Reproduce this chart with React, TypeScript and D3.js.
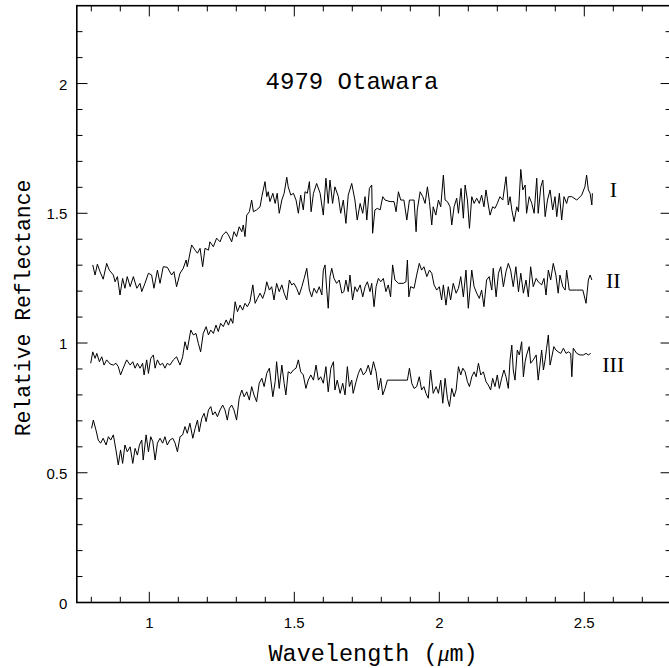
import * as d3 from "d3";

// spectra of 4979 Otawara, three runs, [wavelength um, relative reflectance]
const specI: [number, number][] = [
  [0.805, 1.301], [0.813, 1.262], [0.821, 1.304], [0.830, 1.275], [0.841, 1.246], [0.853, 1.307],
  [0.862, 1.281], [0.876, 1.262], [0.882, 1.236], [0.890, 1.256], [0.899, 1.185], [0.908, 1.249],
  [0.916, 1.211], [0.924, 1.256], [0.934, 1.217], [0.945, 1.256], [0.957, 1.211], [0.968, 1.230],
  [0.974, 1.198], [0.985, 1.230], [0.997, 1.269], [1.008, 1.262], [1.016, 1.211], [1.028, 1.281],
  [1.037, 1.230], [1.048, 1.294], [1.062, 1.292], [1.077, 1.262], [1.085, 1.275], [1.094, 1.217],
  [1.106, 1.269], [1.117, 1.288], [1.127, 1.320], [1.131, 1.294], [1.146, 1.378], [1.158, 1.358],
  [1.166, 1.346], [1.175, 1.365], [1.184, 1.294], [1.192, 1.365], [1.204, 1.358], [1.209, 1.390],
  [1.221, 1.371], [1.232, 1.404], [1.244, 1.390], [1.253, 1.416], [1.265, 1.429], [1.273, 1.416],
  [1.284, 1.390], [1.292, 1.429], [1.301, 1.410], [1.310, 1.448], [1.319, 1.429], [1.324, 1.455],
  [1.330, 1.410], [1.336, 1.493], [1.345, 1.506], [1.353, 1.551], [1.359, 1.506], [1.370, 1.513],
  [1.382, 1.525], [1.388, 1.564], [1.399, 1.622], [1.405, 1.564], [1.410, 1.583], [1.416, 1.545],
  [1.426, 1.577], [1.434, 1.538], [1.441, 1.577], [1.448, 1.500], [1.457, 1.551], [1.465, 1.577],
  [1.474, 1.639], [1.479, 1.602], [1.488, 1.570], [1.497, 1.577], [1.506, 1.551], [1.514, 1.500],
  [1.522, 1.570], [1.531, 1.513], [1.537, 1.583], [1.545, 1.577], [1.552, 1.622], [1.558, 1.506],
  [1.566, 1.577], [1.577, 1.615], [1.589, 1.577], [1.600, 1.493], [1.609, 1.635], [1.617, 1.538],
  [1.623, 1.628], [1.632, 1.538], [1.640, 1.602], [1.652, 1.564], [1.660, 1.500], [1.669, 1.551],
  [1.678, 1.461], [1.686, 1.570], [1.698, 1.615], [1.709, 1.551], [1.717, 1.474], [1.727, 1.538],
  [1.736, 1.500], [1.744, 1.564], [1.750, 1.474], [1.759, 1.596], [1.767, 1.609], [1.770, 1.423],
  [1.778, 1.513], [1.786, 1.519], [1.796, 1.513], [1.805, 1.564], [1.813, 1.551], [1.830, 1.545],
  [1.844, 1.545], [1.851, 1.506], [1.859, 1.583], [1.867, 1.551], [1.878, 1.551], [1.888, 1.474],
  [1.897, 1.551], [1.905, 1.551], [1.913, 1.551], [1.920, 1.429], [1.924, 1.513], [1.934, 1.583],
  [1.943, 1.564], [1.951, 1.538], [1.959, 1.602], [1.966, 1.545], [1.974, 1.455], [1.979, 1.525],
  [1.988, 1.493], [1.997, 1.551], [2.005, 1.525], [2.014, 1.647], [2.020, 1.551], [2.028, 1.545],
  [2.037, 1.525], [2.043, 1.455], [2.051, 1.525], [2.060, 1.558], [2.066, 1.500], [2.075, 1.596],
  [2.083, 1.481], [2.089, 1.609], [2.097, 1.551], [2.104, 1.442], [2.112, 1.564], [2.120, 1.538],
  [2.129, 1.558], [2.138, 1.538], [2.146, 1.570], [2.154, 1.525], [2.161, 1.590], [2.169, 1.532],
  [2.175, 1.493], [2.184, 1.525], [2.192, 1.519], [2.200, 1.538], [2.209, 1.564], [2.219, 1.551],
  [2.230, 1.641], [2.238, 1.532], [2.244, 1.564], [2.250, 1.513], [2.258, 1.468], [2.267, 1.525],
  [2.273, 1.506], [2.281, 1.669], [2.288, 1.590], [2.296, 1.609], [2.301, 1.500], [2.310, 1.564],
  [2.319, 1.538], [2.327, 1.500], [2.336, 1.635], [2.341, 1.500], [2.350, 1.602], [2.357, 1.628],
  [2.365, 1.487], [2.373, 1.551], [2.382, 1.590], [2.391, 1.513], [2.399, 1.564], [2.405, 1.487],
  [2.414, 1.577], [2.422, 1.474], [2.430, 1.564], [2.439, 1.538], [2.445, 1.564], [2.457, 1.564],
  [2.474, 1.551], [2.491, 1.570], [2.502, 1.602], [2.508, 1.647], [2.514, 1.590], [2.520, 1.577],
  [2.526, 1.532], [2.528, 1.577],
];

const specII: [number, number][] = [
  [0.798, 0.922], [0.805, 0.966], [0.813, 0.941], [0.819, 0.960], [0.828, 0.928], [0.836, 0.947],
  [0.844, 0.915], [0.853, 0.935], [0.865, 0.919], [0.876, 0.915], [0.885, 0.922], [0.893, 0.909],
  [0.901, 0.877], [0.910, 0.903], [0.922, 0.935], [0.934, 0.915], [0.943, 0.928], [0.951, 0.903],
  [0.959, 0.922], [0.968, 0.903], [0.977, 0.922], [0.982, 0.877], [0.991, 0.935], [0.997, 0.883],
  [1.005, 0.941], [1.014, 0.954], [1.020, 0.903], [1.028, 0.935], [1.037, 0.915], [1.046, 0.922],
  [1.054, 0.903], [1.062, 0.922], [1.071, 0.915], [1.083, 0.935], [1.094, 0.947], [1.106, 0.915],
  [1.115, 0.947], [1.123, 1.005], [1.131, 0.973], [1.143, 1.050], [1.152, 1.031], [1.161, 1.037],
  [1.169, 0.999], [1.177, 0.966], [1.186, 1.037], [1.196, 1.063], [1.204, 1.031], [1.212, 1.050],
  [1.221, 1.037], [1.230, 1.069], [1.238, 1.044], [1.246, 1.076], [1.255, 1.063], [1.265, 1.089],
  [1.273, 1.069], [1.281, 1.095], [1.288, 1.076], [1.296, 1.159], [1.304, 1.121], [1.313, 1.146],
  [1.322, 1.127], [1.330, 1.153], [1.338, 1.140], [1.347, 1.159], [1.357, 1.224], [1.365, 1.153],
  [1.373, 1.172], [1.382, 1.192], [1.391, 1.172], [1.399, 1.198], [1.405, 1.236], [1.414, 1.204],
  [1.422, 1.217], [1.430, 1.166], [1.439, 1.230], [1.448, 1.198], [1.457, 1.224], [1.465, 1.192],
  [1.474, 1.166], [1.483, 1.243], [1.491, 1.224], [1.499, 1.230], [1.508, 1.211], [1.517, 1.185],
  [1.526, 1.217], [1.534, 1.249], [1.543, 1.288], [1.552, 1.204], [1.560, 1.178], [1.568, 1.211],
  [1.577, 1.192], [1.586, 1.217], [1.595, 1.185], [1.600, 1.281], [1.606, 1.301], [1.612, 1.204],
  [1.617, 1.134], [1.623, 1.256], [1.629, 1.288], [1.637, 1.249], [1.646, 1.230], [1.655, 1.243],
  [1.664, 1.192], [1.671, 1.198], [1.678, 1.243], [1.686, 1.198], [1.692, 1.262], [1.701, 1.166],
  [1.709, 1.217], [1.717, 1.198], [1.727, 1.224], [1.736, 1.178], [1.744, 1.217], [1.752, 1.236],
  [1.761, 1.198], [1.767, 1.230], [1.775, 1.140], [1.782, 1.217], [1.790, 1.249], [1.798, 1.236],
  [1.807, 1.249], [1.816, 1.198], [1.824, 1.224], [1.832, 1.178], [1.839, 1.301], [1.847, 1.243],
  [1.859, 1.230], [1.876, 1.230], [1.885, 1.236], [1.890, 1.320], [1.895, 1.178], [1.901, 1.217],
  [1.913, 1.211], [1.922, 1.262], [1.931, 1.307], [1.939, 1.281], [1.947, 1.294], [1.957, 1.256],
  [1.966, 1.281], [1.974, 1.269], [1.982, 1.224], [1.991, 1.204], [2.000, 1.217], [2.008, 1.166],
  [2.014, 1.224], [2.023, 1.146], [2.031, 1.217], [2.039, 1.166], [2.048, 1.230], [2.058, 1.192],
  [2.066, 1.211], [2.074, 1.256], [2.083, 1.178], [2.092, 1.281], [2.100, 1.134], [2.112, 1.281],
  [2.120, 1.217], [2.129, 1.192], [2.138, 1.172], [2.146, 1.204], [2.154, 1.140], [2.163, 1.243],
  [2.172, 1.256], [2.181, 1.204], [2.186, 1.288], [2.196, 1.178], [2.204, 1.269], [2.212, 1.294],
  [2.221, 1.217], [2.230, 1.275], [2.238, 1.307], [2.246, 1.281], [2.255, 1.217], [2.264, 1.294],
  [2.273, 1.198], [2.281, 1.269], [2.290, 1.192], [2.299, 1.243], [2.307, 1.178], [2.315, 1.294],
  [2.324, 1.217], [2.334, 1.249], [2.341, 1.236], [2.353, 1.224], [2.361, 1.249], [2.368, 1.185],
  [2.376, 1.281], [2.384, 1.243], [2.393, 1.307], [2.402, 1.262], [2.410, 1.192], [2.416, 1.262],
  [2.426, 1.217], [2.434, 1.204], [2.439, 1.281], [2.448, 1.204], [2.474, 1.204], [2.495, 1.204],
  [2.506, 1.153], [2.514, 1.243], [2.520, 1.262], [2.526, 1.243],
];

const specIII: [number, number][] = [
  [0.801, 0.671], [0.807, 0.703], [0.816, 0.665], [0.824, 0.626], [0.832, 0.614], [0.841, 0.633],
  [0.851, 0.607], [0.859, 0.639], [0.867, 0.626], [0.876, 0.646], [0.885, 0.588], [0.893, 0.530],
  [0.901, 0.588], [0.908, 0.536], [0.916, 0.607], [0.924, 0.581], [0.934, 0.600], [0.943, 0.536],
  [0.951, 0.594], [0.959, 0.568], [0.966, 0.607], [0.974, 0.626], [0.979, 0.549], [0.989, 0.646],
  [0.997, 0.581], [1.005, 0.639], [1.012, 0.620], [1.020, 0.549], [1.028, 0.614], [1.037, 0.633],
  [1.046, 0.614], [1.054, 0.639], [1.062, 0.607], [1.071, 0.626], [1.081, 0.633], [1.089, 0.614],
  [1.097, 0.581], [1.106, 0.639], [1.115, 0.646], [1.123, 0.678], [1.131, 0.652], [1.140, 0.691],
  [1.150, 0.633], [1.158, 0.671], [1.166, 0.703], [1.172, 0.658], [1.181, 0.710], [1.189, 0.729],
  [1.196, 0.697], [1.204, 0.742], [1.212, 0.755], [1.219, 0.723], [1.227, 0.735], [1.235, 0.716],
  [1.244, 0.742], [1.253, 0.761], [1.261, 0.742], [1.269, 0.703], [1.276, 0.748], [1.284, 0.761],
  [1.292, 0.742], [1.301, 0.703], [1.310, 0.787], [1.319, 0.819], [1.327, 0.793], [1.336, 0.812],
  [1.345, 0.780], [1.353, 0.832], [1.361, 0.800], [1.370, 0.774], [1.379, 0.845], [1.388, 0.864],
  [1.396, 0.832], [1.405, 0.883], [1.414, 0.903], [1.426, 0.793], [1.434, 0.851], [1.439, 0.928],
  [1.448, 0.825], [1.457, 0.915], [1.465, 0.845], [1.471, 0.800], [1.479, 0.889], [1.488, 0.883],
  [1.497, 0.896], [1.506, 0.903], [1.514, 0.935], [1.522, 0.889], [1.531, 0.877], [1.540, 0.825],
  [1.548, 0.857], [1.557, 0.877], [1.566, 0.857], [1.575, 0.915], [1.583, 0.857], [1.591, 0.870],
  [1.600, 0.845], [1.609, 0.909], [1.617, 0.812], [1.626, 0.903], [1.635, 0.928], [1.640, 0.819],
  [1.648, 0.857], [1.658, 0.806], [1.667, 0.845], [1.675, 0.800], [1.683, 0.909], [1.690, 0.832],
  [1.698, 0.857], [1.703, 0.806], [1.713, 0.851], [1.721, 0.883], [1.729, 0.903], [1.738, 0.877],
  [1.747, 0.889], [1.755, 0.915], [1.764, 0.877], [1.773, 0.928], [1.782, 0.889], [1.790, 0.819],
  [1.798, 0.864], [1.805, 0.800], [1.813, 0.825], [1.821, 0.857], [1.890, 0.857], [1.897, 0.903],
  [1.905, 0.845], [1.913, 0.825], [1.922, 0.832], [1.931, 0.870], [1.939, 0.819], [1.947, 0.832],
  [1.954, 0.806], [1.962, 0.787], [1.970, 0.896], [1.979, 0.806], [1.989, 0.832], [1.997, 0.806],
  [2.005, 0.857], [2.012, 0.768], [2.020, 0.864], [2.028, 0.787], [2.035, 0.755], [2.043, 0.825],
  [2.051, 0.793], [2.058, 0.819], [2.066, 0.909], [2.074, 0.877], [2.081, 0.903], [2.089, 0.889],
  [2.097, 0.851], [2.104, 0.832], [2.112, 0.870], [2.120, 0.889], [2.127, 0.870], [2.135, 0.922],
  [2.143, 0.877], [2.152, 0.889], [2.161, 0.851], [2.169, 0.838], [2.177, 0.819], [2.184, 0.864],
  [2.192, 0.832], [2.200, 0.877], [2.207, 0.825], [2.215, 0.864], [2.223, 0.896], [2.230, 0.870],
  [2.238, 0.825], [2.244, 0.935], [2.250, 0.992], [2.255, 0.896], [2.261, 0.857], [2.269, 0.973],
  [2.276, 0.954], [2.284, 1.005], [2.290, 0.870], [2.296, 0.928], [2.301, 0.954], [2.310, 0.986],
  [2.315, 0.922], [2.324, 0.935], [2.334, 0.954], [2.341, 0.857], [2.347, 0.915], [2.353, 0.973],
  [2.359, 0.896], [2.365, 0.935], [2.370, 0.980], [2.376, 1.031], [2.382, 0.915], [2.387, 0.941],
  [2.395, 0.986], [2.402, 0.973], [2.410, 0.966], [2.419, 0.960], [2.428, 0.980], [2.437, 0.960],
  [2.445, 0.966], [2.453, 0.960], [2.457, 0.870], [2.462, 0.980], [2.474, 0.960], [2.485, 0.954],
  [2.497, 0.954], [2.506, 0.960], [2.514, 0.954], [2.522, 0.960],
];

const seriesList = [specI, specII, specIII];
const seriesNames = ["I", "II", "III"];
// label positions in data units: [wavelength, reflectance of baseline]
const seriesLabelPos: [number, number][] = [[2.6, 1.562], [2.6, 1.211], [2.6, 0.89]];

const xDomain = [0.75, 2.8];
const yDomain = [0, 2.3];
const xMajor = [1, 1.5, 2, 2.5];
const xMinor = d3.range(8, 28).map((v) => v / 10);
const yMajor = [0, 0.5, 1, 1.5, 2];
const yMinor = d3.range(1, 23).map((v) => v / 10);

const W = 669;
const H = 668;
const margin = { left: 76.8, right: -2.3, top: 5.7, bottom: 65.5 };

export default function App() {
  const x = d3.scaleLinear().domain(xDomain).range([margin.left, W - margin.right]);
  const y = d3.scaleLinear().domain(yDomain).range([H - margin.bottom, margin.top]);
  const line = d3.line<[number, number]>().x((d) => x(d[0])).y((d) => y(d[1]));

  const x0 = x.range()[0], x1 = x.range()[1];
  const y0 = y.range()[0], y1 = y.range()[1];
  const big = 10.7, small = 5.7;

  return (
    <svg width={W} height={H} style={{ position: "absolute", left: 0, top: 0, background: "#fff" }}>
      <g stroke="#000" strokeWidth={1}>
        {xMinor.map((v) => {
          const len = xMajor.some((m) => Math.abs(m - v) < 1e-6) ? big : small;
          return (
            <g key={"xt" + v}>
              <line x1={x(v)} x2={x(v)} y1={y0} y2={y0 - len} />
              <line x1={x(v)} x2={x(v)} y1={y1} y2={y1 + len} />
            </g>
          );
        })}
        {yMinor.map((v) => {
          const len = yMajor.some((m) => Math.abs(m - v) < 1e-6) ? big : small;
          return (
            <g key={"yt" + v}>
              <line x1={x0} x2={x0 + len} y1={y(v)} y2={y(v)} />
              <line x1={x1} x2={x1 - len} y1={y(v)} y2={y(v)} />
            </g>
          );
        })}
      </g>
      <rect x={x0} y={y1} width={x1 - x0} height={y0 - y1} fill="none" stroke="#000" strokeWidth={1.6} />

      <g fontFamily="'Liberation Sans', Arial, sans-serif" fontSize={15} fill="#000">
        {yMajor.map((v) => (
          <text key={"yl" + v} x={x0 - 9.5} y={y(v) + 6} textAnchor="end">{String(v)}</text>
        ))}
        {xMajor.map((v) => (
          <text key={"xl" + v} x={x(v)} y={y0 + 25} textAnchor="middle">{String(v)}</text>
        ))}
      </g>

      <g fill="none" stroke="#000" strokeWidth={1} strokeLinejoin="round">
        {seriesList.map((s, i) => (
          <path key={"s" + i} d={line(s) ?? ""} />
        ))}
      </g>

      <g fontFamily="'Liberation Serif', 'Times New Roman', serif" fontSize={22} fill="#000">
        {seriesNames.map((n, i) => (
          <text key={"n" + n} x={x(seriesLabelPos[i][0])} y={y(seriesLabelPos[i][1])} textAnchor="middle">{n}</text>
        ))}
      </g>

      <g fontFamily="'Liberation Mono', 'Courier New', monospace" fill="#000">
        <text x={352} y={89} fontSize={24} textAnchor="middle">4979 Otawara</text>
        <text x={(x0 + 671.3) / 2 - 1} y={661} fontSize={23.5} textAnchor="middle">
          Wavelength (<tspan fontStyle="italic" fontFamily="'Liberation Serif', serif">μ</tspan>m)
        </text>
        <text transform={`translate(30, ${308}) rotate(-90)`} fontSize={21.4} textAnchor="middle">
          Relative Reflectance
        </text>
      </g>
    </svg>
  );
}
